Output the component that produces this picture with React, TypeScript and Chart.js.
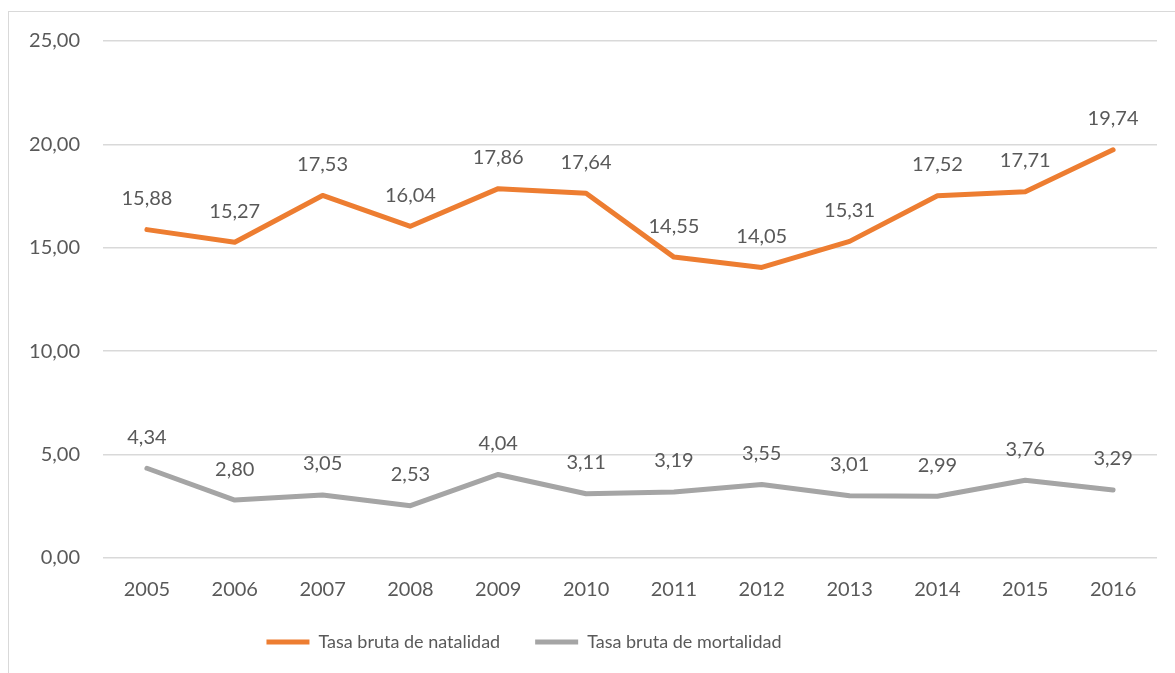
import React, { useEffect, useRef } from "react";
import { Chart, registerables } from "chart.js";

Chart.register(...registerables);

const years = ["2005", "2006", "2007", "2008", "2009", "2010", "2011", "2012", "2013", "2014", "2015", "2016"];
const natalidad = [15.88, 15.27, 17.53, 16.04, 17.86, 17.64, 14.55, 14.05, 15.31, 17.52, 17.71, 19.74];
const mortalidad = [4.34, 2.8, 3.05, 2.53, 4.04, 3.11, 3.19, 3.55, 3.01, 2.99, 3.76, 3.29];
const seriesNames = ["Tasa bruta de natalidad", "Tasa bruta de mortalidad"];

const FONT = "Lato, 'Open Sans', sans-serif";
const TEXT = "#595959";
const FS = 20;

const fmt = (v: number) => v.toFixed(2).replace(".", ",");

const labelPlugin = {
  id: "dataLabels",
  afterLayout(chart: any) {
    const lg = chart.legend;
    if (lg) {
      lg.left = 0;
      lg.right = 1048;
      lg.width = 1048;
    }
  },
  afterDatasetsDraw(chart: any) {
    const ctx = chart.ctx;
    ctx.save();
    ctx.font = `${FS}px ${FONT}`;
    ctx.fillStyle = TEXT;
    ctx.textAlign = "center";
    ctx.textBaseline = "middle";
    chart.data.datasets.forEach((ds: any, i: number) => {
      const meta = chart.getDatasetMeta(i);
      meta.data.forEach((pt: any, j: number) => {
        ctx.fillText(fmt(ds.data[j]), pt.x, pt.y - 31);
      });
    });
    ctx.restore();
  },
};

export default function App() {
  const ref = useRef<HTMLCanvasElement>(null);
  useEffect(() => {
    if (!ref.current) return;
    const chart = new Chart(ref.current, {
      type: "line",
      data: {
        labels: years,
        datasets: [
          {
            label: seriesNames[0],
            data: natalidad,
            borderColor: "#ED7D31",
            backgroundColor: "#ED7D31",
            borderWidth: 5,
            pointRadius: 0,
            borderCapStyle: "round",
            borderJoinStyle: "round",
            tension: 0,
          },
          {
            label: seriesNames[1],
            data: mortalidad,
            borderColor: "#A5A5A5",
            backgroundColor: "#A5A5A5",
            borderWidth: 5,
            pointRadius: 0,
            borderCapStyle: "round",
            borderJoinStyle: "round",
            tension: 0,
          },
        ],
      },
      options: {
        animation: false,
        responsive: false,
        layout: { padding: { top: 41, right: 18, bottom: 12, left: 0 } },
        scales: {
          x: {
            offset: true,
            grid: { display: false },
            border: { display: false },
            ticks: { color: TEXT, font: { family: FONT, size: FS }, padding: 12 },
            afterFit: (s: any) => {
              s.height = 40;
            },
          },
          y: {
            min: 0,
            max: 25,
            ticks: {
              stepSize: 5,
              color: TEXT,
              font: { family: FONT, size: FS },
              padding: 23,
              callback: (v: any) => fmt(Number(v)),
            },
            grid: { color: "#D9D9D9", lineWidth: 1.5, drawTicks: false },
            border: { display: false },
            afterFit: (s: any) => {
              s.width = 103;
            },
          },
        },
        plugins: {
          legend: {
            position: "bottom",
            labels: {
              usePointStyle: true,
              pointStyle: "line",
              pointStyleWidth: 43,
              color: TEXT,
              font: { family: FONT, size: 18 },
              padding: 35,
            },
          },
          tooltip: { enabled: false },
        },
      },
      plugins: [labelPlugin],
    } as any);
    return () => chart.destroy();
  }, []);
  return (
    <div style={{ position: "fixed", left: 0, top: 0, width: 1175, height: 673, background: "#fff", overflow: "hidden" }}>
      <div
        style={{
          position: "absolute",
          left: 8,
          top: 11,
          width: 1200,
          height: 700,
          border: "1.5px solid #D9D9D9",
          boxSizing: "border-box",
        }}
      />
      <canvas ref={ref} width={1175} height={673} style={{ position: "absolute", left: 0, top: 0 }} />
    </div>
  );
}
